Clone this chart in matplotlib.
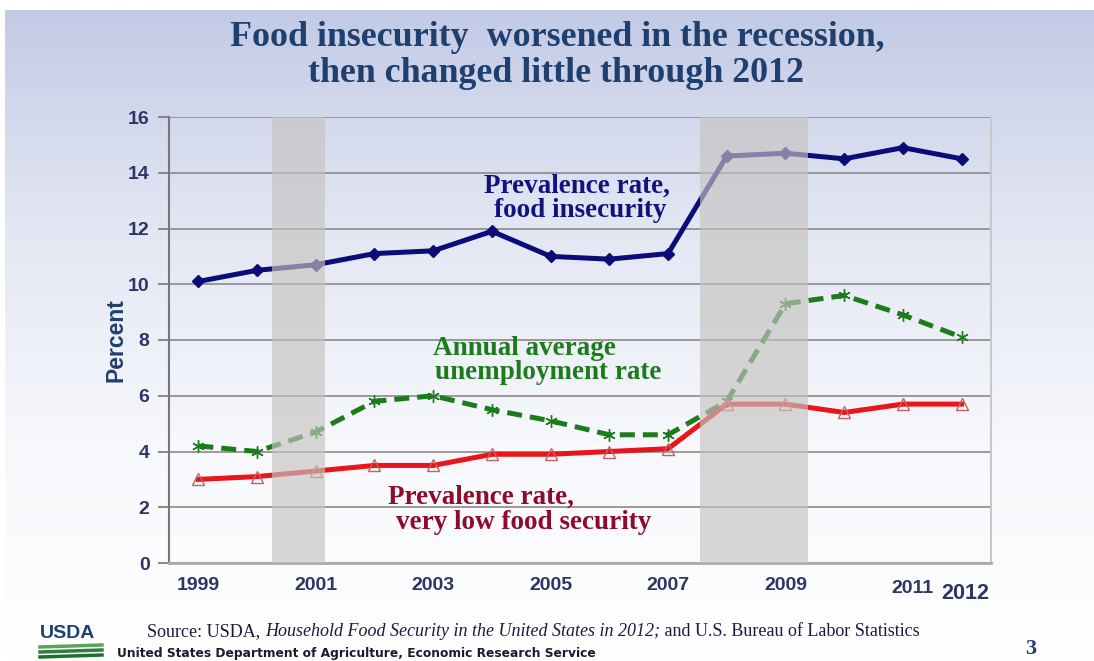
import matplotlib
matplotlib.use("Agg")
import matplotlib.pyplot as plt
import numpy as np
from matplotlib.colors import LinearSegmentedColormap

years = [1999, 2000, 2001, 2002, 2003, 2004, 2005, 2006, 2007, 2008, 2009, 2010, 2011, 2012]
food_insecurity = [10.1, 10.5, 10.7, 11.1, 11.2, 11.9, 11.0, 10.9, 11.1, 14.6, 14.7, 14.5, 14.9, 14.5]
unemployment = [4.2, 4.0, 4.7, 5.8, 6.0, 5.5, 5.1, 4.6, 4.6, 5.8, 9.3, 9.6, 8.9, 8.1]
very_low = [3.0, 3.1, 3.3, 3.5, 3.5, 3.9, 3.9, 4.0, 4.1, 5.7, 5.7, 5.4, 5.7, 5.7]
tick_years = [1999, 2001, 2003, 2005, 2007, 2009]
recessions = [(2000.25, 2001.16), (2007.55, 2009.39)]
yticks = [0, 2, 4, 6, 8, 10, 12, 14, 16]

W, H = 1094, 661
fig = plt.figure(figsize=(W / 100, H / 100), dpi=100)

# slide background gradient
bg = fig.add_axes([0, 0, 1, 1], zorder=-10)
grad = np.linspace(0, 1, 256).reshape(-1, 1)
cmap = LinearSegmentedColormap.from_list("bg", ["#c3cae6", "#e3e7f3", "#f7f8fc", "#ffffff"])
bg.imshow(grad, aspect="auto", cmap=cmap, extent=[5 / W, 1, 0, 1 - 10 / H])
bg.set_xlim(0, 1)
bg.set_ylim(0, 1)
bg.axis("off")

ax = fig.add_axes([169 / W, 1 - 563 / H, (991 - 169) / W, (563 - 117) / H])
ax.patch.set_alpha(0)
x = np.array(years)
ax.set_xlim(years[0] - 0.5, years[-1] + 0.5)
ax.set_ylim(0, 16)

ax.plot(x, food_insecurity, color="#0c0c78", lw=3.6, marker="D", ms=6, zorder=3)
ax.plot(x, unemployment, color="#1c7c1c", lw=3.6, ls=(0, (3, 1.6)), marker=(6, 2, 0), ms=9,
        mew=1.0, zorder=3)
ax.plot(x, very_low, color="#e8151b", lw=3.6, marker="^", ms=9, mfc="none", mec="#c86060", mew=1,
        zorder=3)

for a, b in recessions:
    ax.axvspan(a, b, color="#c6c2c0", alpha=0.65, lw=0, zorder=4)

tick_color = "#2e3566"
sans = "Liberation Sans"
ax.set_yticks(yticks)
ax.yaxis.grid(True, color="#8a8a8a", lw=1.2)
ax.set_axisbelow(True)
ax.set_xticks(tick_years)
ax.set_xticklabels([str(t) for t in tick_years])
for lbl in ax.get_xticklabels() + ax.get_yticklabels():
    lbl.set_fontweight("bold")
    lbl.set_color(tick_color)
    lbl.set_fontsize(14)
    lbl.set_family(sans)
ax.text(2011.17, -0.62, "2011", ha="center", va="top", fontsize=14, fontweight="bold",
        family=sans, color=tick_color)
ax.text(2012.06, -0.72, "2012", ha="center", va="top", fontsize=15.5, fontweight="bold",
        family=sans, color=tick_color)
ax.tick_params(axis="x", length=0, pad=10)
ax.tick_params(axis="y", length=8, color="#777777", width=1.2, pad=6)
ax.spines["top"].set_visible(False)
ax.spines["left"].set_color("#777777")
ax.spines["left"].set_linewidth(1.5)
ax.spines["bottom"].set_color("#aaaaaa")
ax.spines["bottom"].set_linewidth(2)
ax.spines["right"].set_color("#c8c8c8")
ax.spines["right"].set_linewidth(1.5)
ax.set_ylabel("Percent", fontsize=16.5, fontweight="bold", color="#1f3f6e", family=sans)
ax.yaxis.set_label_coords(-0.05, 0.5)

serif = "Liberation Serif"
kw = dict(fontsize=19.5, fontweight="bold", family=serif, va="center")
ax.text(2005.45, 13.52, "Prevalence rate,", ha="center", color="#12127e", **kw)
ax.text(2005.50, 12.63, "food insecurity", ha="center", color="#12127e", **kw)
ax.text(2003.00, 7.71, "Annual average", ha="left", color="#1c7c1c", **kw)
ax.text(2003.03, 6.82, "unemployment rate", ha="left", color="#1c7c1c", **kw)
ax.text(2002.23, 2.37, "Prevalence rate,", ha="left", color="#8e0b2c", **kw)
ax.text(2002.37, 1.44, "very low food security", ha="left", color="#8e0b2c", **kw)

# title
fig.text(557 / W, 1 - 38 / H, "Food insecurity  worsened in the recession,", ha="center", va="center",
         fontsize=25.8, fontweight="bold", family=serif, color="#1f3f6e")
fig.text(556 / W, 1 - 73 / H, "then changed little through 2012", ha="center", va="center",
         fontsize=25.8, fontweight="bold", family=serif, color="#1f3f6e")

# footer
fig.text(40 / W, 1 - 634 / H, "USDA", ha="left", va="center", fontsize=14, fontweight="bold",
         color="#1f3f78", family=sans)
for i, c in enumerate(["#5f9f5f", "#2f7f3f", "#1f6f2f"]):
    fig.add_artist(plt.Line2D([40 / W, 102 / W], [1 - (647 + i * 5) / H, 1 - (645 + i * 5) / H],
                              color=c, lw=2.5))
src_parts = [("Source: USDA, ", "normal"),
             ("Household Food Security in the United States in 2012;", "italic"),
             (" and U.S. Bureau of Labor Statistics", "normal")]
renderer = fig.canvas.get_renderer()
xpos = 147
for s, style in src_parts:
    tt = fig.text(xpos / W, 1 - 632 / H, s, ha="left", va="center", fontsize=13, family=serif,
                  style=style, color="#1a1a40")
    bb = tt.get_window_extent(renderer=renderer)
    xpos += bb.width
fig.text(117 / W, 1 - 654 / H, "United States Department of Agriculture, Economic Research Service",
         ha="left", va="center", fontsize=8.8, fontweight="bold", color="#1a1a30")
fig.text(1031 / W, 1 - 649 / H, "3", ha="center", va="center", fontsize=16, fontweight="bold",
         family=serif, color="#1f3f6e")

fig.savefig("out.png", dpi=100)
